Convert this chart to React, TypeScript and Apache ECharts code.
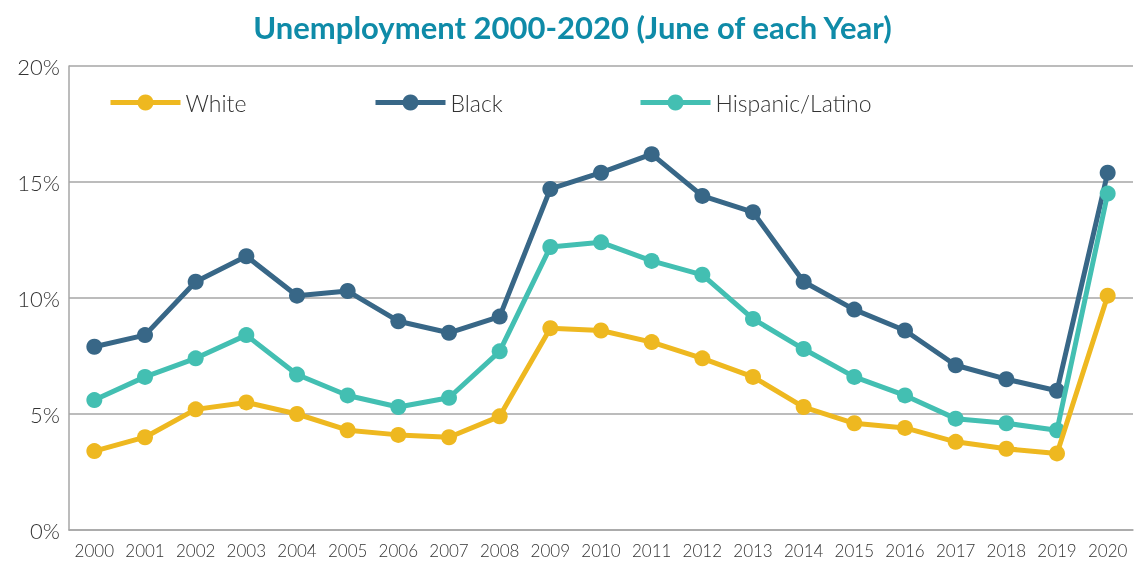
import React, { useEffect, useRef } from "react";
import * as echarts from "echarts";

const years = ["2000","2001","2002","2003","2004","2005","2006","2007","2008","2009","2010","2011","2012","2013","2014","2015","2016","2017","2018","2019","2020"];
const white = [3.4,4.0,5.2,5.5,5.0,4.3,4.1,4.0,4.9,8.7,8.6,8.1,7.4,6.6,5.3,4.6,4.4,3.8,3.5,3.3,10.1];
const black = [7.9,8.4,10.7,11.8,10.1,10.3,9.0,8.5,9.2,14.7,15.4,16.2,14.4,13.7,10.7,9.5,8.6,7.1,6.5,6.0,15.4];
const hispanic = [5.6,6.6,7.4,8.4,6.7,5.8,5.3,5.7,7.7,12.2,12.4,11.6,11.0,9.1,7.8,6.6,5.8,4.8,4.6,4.3,14.5];
const seriesNames = ["White", "Black", "Hispanic/Latino"];
const colors = ["#EEB820", "#386787", "#43BFB2"];
const title = "Unemployment 2000-2020 (June of each Year)";

export default function App() {
  const ref = useRef<HTMLDivElement>(null);
  useEffect(() => {
    if (!ref.current) return;
    const chart = echarts.init(ref.current, null, { renderer: "svg" });
    const font = "Lato, 'Open Sans', sans-serif";
    const legendBase = {
      top: 86,
      itemWidth: 70,
      itemHeight: 20,
      itemGap: 8,
      lineStyle: { width: 5 },
      textStyle: { fontFamily: font, fontSize: 23, color: "#333", fontWeight: 300 },
    };
    const dataSets = [white, black, hispanic];
    chart.setOption({
      animation: false,
      title: {
        text: title,
        left: "center",
        top: 6,
        textStyle: { fontFamily: font, fontSize: 31, fontWeight: "bold", color: "#0F8BA8" },
      },
      legend: [
        { ...legendBase, left: 103, data: [seriesNames[0]] },
        { ...legendBase, left: 368, data: [seriesNames[1]] },
        { ...legendBase, left: 633, data: [seriesNames[2]] },
      ],
      grid: { left: 69, right: 12, top: 66, bottom: 32 },
      xAxis: {
        type: "category",
        data: years,
        boundaryGap: true,
        axisLine: { lineStyle: { color: "#A6A6A6", width: 1.5 } },
        axisTick: { alignWithLabel: true, inside: true, length: 11, lineStyle: { color: "#A6A6A6", width: 1.5 } },
        axisLabel: { interval: 0, fontFamily: font, fontSize: 17, color: "#333", margin: 12, fontWeight: 300 },
      },
      yAxis: {
        type: "value",
        min: 0,
        max: 20,
        interval: 5,
        axisLine: { show: true, lineStyle: { color: "#A6A6A6", width: 1.5 } },
        axisTick: { show: false },
        splitLine: { lineStyle: { color: "#A6A6A6", width: 1.5 } },
        axisLabel: { formatter: "{value}%", fontFamily: font, fontSize: 22, color: "#333", margin: 9, fontWeight: 300 },
      },
      series: seriesNames.map((name, i) => ({
        name,
        type: "line",
        data: dataSets[i],
        symbol: "circle",
        symbolSize: 16,
        color: colors[i],
        lineStyle: { width: 5, color: colors[i] },
        itemStyle: { color: colors[i] },
        z: i === 0 ? 4 : i === 2 ? 3 : 2,
      })),
    });
    return () => chart.dispose();
  }, []);
  return <div ref={ref} style={{ position: "fixed", left: 0, top: 0, width: 1145, height: 562 }} />;
}
